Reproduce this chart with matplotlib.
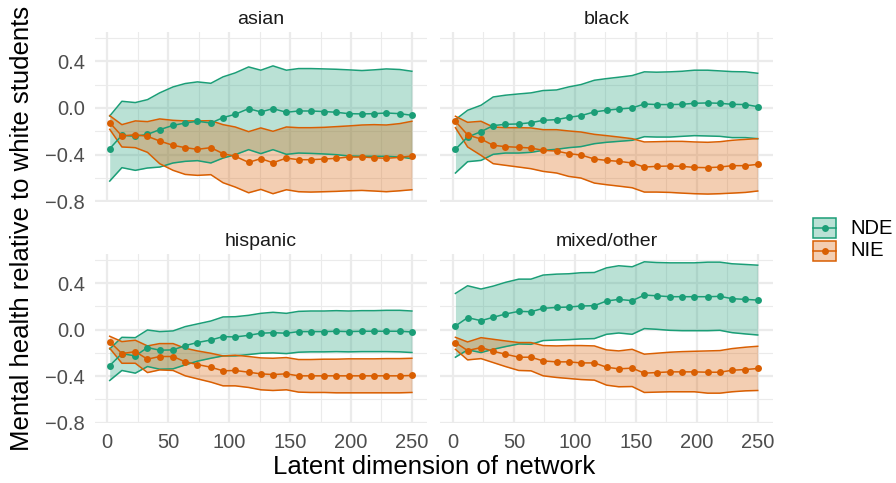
import matplotlib
matplotlib.use("Agg")
import matplotlib.pyplot as plt
from matplotlib.patches import Rectangle
from matplotlib.lines import Line2D

plt.rcParams["font.family"] = ["Liberation Sans", "DejaVu Sans"]

# latent dimensions evaluated
dims = [2, 12, 23, 33, 43, 54, 64, 74, 85, 95, 105, 116, 126, 136, 147,
        157, 167, 178, 188, 198, 209, 219, 229, 240, 250]

groups = ["asian", "black", "hispanic", "mixed/other"]

# natural direct effect (estimate, lower, upper)
nde_est = {
    "asian": [-0.349, -0.234, -0.243, -0.226, -0.186, -0.149, -0.129, -0.114, -0.129, -0.083, -0.054, -0.006, -0.034,
              -0.006, -0.037, -0.026, -0.026, -0.031, -0.037, -0.049, -0.051, -0.049, -0.043, -0.049, -0.063],
    "black": [-0.354, -0.249, -0.203, -0.151, -0.140, -0.137, -0.126, -0.106, -0.100, -0.080, -0.066, -0.034, -0.020,
              -0.009, 0.000, 0.034, 0.029, 0.029, 0.031, 0.040, 0.043, 0.040, 0.031, 0.029, 0.011],
    "hispanic": [-0.309, -0.206, -0.226, -0.154, -0.177, -0.174, -0.137, -0.111, -0.089, -0.060, -0.063, -0.049, -0.031,
                 -0.026, -0.031, -0.017, -0.017, -0.017, -0.014, -0.017, -0.014, -0.014, -0.014, -0.014, -0.020],
    "mixed/other": [0.031, 0.103, 0.077, 0.106, 0.134, 0.157, 0.154, 0.183, 0.191, 0.194, 0.203, 0.206, 0.246,
                    0.260, 0.249, 0.297, 0.291, 0.283, 0.283, 0.283, 0.283, 0.286, 0.266, 0.260, 0.254],
}
nde_lo = {
    "asian": [-0.626, -0.511, -0.534, -0.514, -0.506, -0.471, -0.457, -0.451, -0.471, -0.429, -0.400, -0.357, -0.391,
              -0.357, -0.397, -0.386, -0.389, -0.394, -0.400, -0.411, -0.414, -0.414, -0.414, -0.420, -0.434],
    "black": [-0.557, -0.460, -0.449, -0.397, -0.386, -0.386, -0.380, -0.363, -0.354, -0.340, -0.331, -0.306, -0.294,
              -0.286, -0.277, -0.246, -0.249, -0.249, -0.243, -0.237, -0.240, -0.243, -0.254, -0.254, -0.263],
    "hispanic": [-0.437, -0.351, -0.374, -0.317, -0.340, -0.337, -0.303, -0.271, -0.246, -0.226, -0.226, -0.214, -0.203,
                 -0.200, -0.206, -0.194, -0.191, -0.191, -0.189, -0.191, -0.189, -0.189, -0.189, -0.191, -0.197],
    "mixed/other": [-0.237, -0.174, -0.197, -0.169, -0.146, -0.123, -0.126, -0.094, -0.089, -0.086, -0.080, -0.077, -0.040,
                    -0.029, -0.040, 0.009, 0.003, -0.006, -0.009, -0.009, -0.009, -0.006, -0.026, -0.037, -0.046],
}
nde_hi = {
    "asian": [-0.069, 0.057, 0.046, 0.071, 0.129, 0.180, 0.209, 0.223, 0.211, 0.266, 0.300, 0.351, 0.323,
              0.360, 0.323, 0.337, 0.337, 0.334, 0.331, 0.326, 0.320, 0.326, 0.334, 0.329, 0.314],
    "black": [-0.100, -0.020, 0.023, 0.094, 0.109, 0.120, 0.129, 0.149, 0.154, 0.180, 0.200, 0.237, 0.251,
              0.263, 0.277, 0.309, 0.306, 0.309, 0.314, 0.323, 0.323, 0.317, 0.311, 0.309, 0.297],
    "hispanic": [-0.166, -0.066, -0.069, -0.003, -0.017, -0.011, 0.026, 0.049, 0.074, 0.109, 0.111, 0.123, 0.140,
                 0.149, 0.140, 0.157, 0.160, 0.160, 0.163, 0.160, 0.163, 0.163, 0.166, 0.166, 0.160],
    "mixed/other": [0.311, 0.377, 0.349, 0.374, 0.406, 0.434, 0.434, 0.469, 0.477, 0.480, 0.489, 0.491, 0.531,
                    0.549, 0.540, 0.583, 0.577, 0.574, 0.574, 0.574, 0.580, 0.580, 0.566, 0.560, 0.554],
}

# natural indirect effect (estimate, lower, upper)
nie_est = {
    "asian": [-0.126, -0.240, -0.229, -0.243, -0.283, -0.320, -0.340, -0.354, -0.340, -0.391, -0.414, -0.466, -0.434,
              -0.469, -0.429, -0.443, -0.443, -0.437, -0.431, -0.420, -0.420, -0.426, -0.431, -0.423, -0.411],
    "black": [-0.114, -0.231, -0.266, -0.320, -0.331, -0.337, -0.343, -0.363, -0.369, -0.391, -0.403, -0.437, -0.449,
              -0.457, -0.471, -0.506, -0.500, -0.497, -0.500, -0.509, -0.511, -0.506, -0.494, -0.494, -0.483],
    "hispanic": [-0.103, -0.206, -0.189, -0.254, -0.231, -0.231, -0.277, -0.300, -0.323, -0.354, -0.351, -0.366, -0.380,
                 -0.386, -0.380, -0.397, -0.397, -0.397, -0.397, -0.397, -0.397, -0.397, -0.397, -0.397, -0.394],
    "mixed/other": [-0.111, -0.180, -0.154, -0.186, -0.211, -0.237, -0.237, -0.269, -0.277, -0.277, -0.286, -0.286, -0.323,
                    -0.337, -0.331, -0.374, -0.369, -0.363, -0.363, -0.363, -0.366, -0.366, -0.349, -0.343, -0.334],
}
nie_lo = {
    "asian": [-0.183, -0.334, -0.340, -0.380, -0.477, -0.534, -0.569, -0.577, -0.571, -0.640, -0.677, -0.726, -0.697,
              -0.734, -0.700, -0.717, -0.720, -0.717, -0.714, -0.709, -0.706, -0.711, -0.717, -0.709, -0.700],
    "black": [-0.169, -0.334, -0.406, -0.477, -0.491, -0.506, -0.520, -0.543, -0.557, -0.586, -0.600, -0.643, -0.657,
              -0.669, -0.683, -0.720, -0.720, -0.723, -0.729, -0.734, -0.737, -0.734, -0.729, -0.723, -0.711],
    "hispanic": [-0.160, -0.289, -0.289, -0.369, -0.346, -0.351, -0.397, -0.423, -0.451, -0.483, -0.483, -0.497, -0.517,
                 -0.523, -0.517, -0.537, -0.540, -0.540, -0.543, -0.543, -0.543, -0.543, -0.543, -0.543, -0.540],
    "mixed/other": [-0.169, -0.260, -0.249, -0.283, -0.317, -0.351, -0.354, -0.397, -0.411, -0.420, -0.429, -0.434, -0.477,
                    -0.491, -0.489, -0.540, -0.537, -0.534, -0.534, -0.534, -0.546, -0.546, -0.534, -0.526, -0.523],
}
nie_hi = {
    "asian": [-0.066, -0.143, -0.111, -0.117, -0.094, -0.106, -0.111, -0.111, -0.109, -0.143, -0.163, -0.203, -0.171,
              -0.200, -0.163, -0.169, -0.169, -0.166, -0.160, -0.154, -0.146, -0.143, -0.146, -0.134, -0.114],
    "black": [-0.071, -0.123, -0.114, -0.163, -0.169, -0.169, -0.171, -0.186, -0.186, -0.197, -0.206, -0.226, -0.237,
              -0.249, -0.263, -0.291, -0.289, -0.286, -0.286, -0.291, -0.294, -0.289, -0.277, -0.269, -0.263],
    "hispanic": [-0.057, -0.103, -0.091, -0.140, -0.120, -0.120, -0.160, -0.183, -0.203, -0.226, -0.220, -0.231, -0.243,
                 -0.246, -0.240, -0.257, -0.257, -0.254, -0.254, -0.251, -0.251, -0.251, -0.249, -0.249, -0.246],
    "mixed/other": [-0.066, -0.106, -0.069, -0.083, -0.097, -0.111, -0.111, -0.137, -0.140, -0.137, -0.137, -0.140, -0.174,
                    -0.183, -0.169, -0.211, -0.203, -0.194, -0.189, -0.186, -0.183, -0.180, -0.163, -0.151, -0.143],
}

effects = ["NDE", "NIE"]
colors = {"NDE": "#1B9E77", "NIE": "#D95F02"}
series = {
    "NDE": (nde_est, nde_lo, nde_hi),
    "NIE": (nie_est, nie_lo, nie_hi),
}

y_ticks = [0.4, 0.0, -0.4, -0.8]
y_minor = [0.6, 0.2, -0.2, -0.6]
x_ticks = [0, 50, 100, 150, 200, 250]
x_minor = [25, 75, 125, 175, 225]

W, H = 896, 483
fig = plt.figure(figsize=(W / 100, H / 100), dpi=100)

# panel boxes in pixels: (left, right) per column, (top, bottom) per row
col_x = [(94.6, 427.0), (440.3, 772.8)]
row_y = [(32.0, 202.0), (254.0, 423.3)]

grey_major = "#EBEBEB"
tick_col = "#4D4D4D"
fs_tick = 14.5
fs_strip = 14
fs_title = 18.5

for k, g in enumerate(groups):
    r, c = divmod(k, 2)
    x0, x1 = col_x[c]
    y0, y1 = row_y[r]
    ax = fig.add_axes([x0 / W, 1 - y1 / H, (x1 - x0) / W, (y1 - y0) / H])
    ax.set_xlim(-10.4, 262.4)
    ax.set_ylim(-0.805, 0.65)
    for s in ax.spines.values():
        s.set_visible(False)
    for v in y_ticks:
        ax.axhline(v, color=grey_major, lw=1.6, zorder=0)
    for v in y_minor:
        ax.axhline(v, color=grey_major, lw=0.8, zorder=0)
    for v in x_ticks:
        ax.axvline(v, color=grey_major, lw=1.6, zorder=0)
    for v in x_minor:
        ax.axvline(v, color=grey_major, lw=0.8, zorder=0)

    for e in effects:
        est, lo, hi = series[e]
        ax.fill_between(dims, lo[g], hi[g], color=colors[e], alpha=0.3, lw=0, zorder=1)
        ax.plot(dims, lo[g], color=colors[e], lw=1.1, zorder=1.5)
        ax.plot(dims, hi[g], color=colors[e], lw=1.1, zorder=1.5)
    for e in effects:
        est = series[e][0]
        ax.plot(dims, est[g], color=colors[e], lw=1.1, marker="o", ms=5,
                markeredgewidth=0, zorder=3)

    ax.set_yticks(y_ticks)
    ax.set_xticks(x_ticks)
    ax.tick_params(length=0, pad=7, labelsize=fs_tick, labelcolor=tick_col)
    if c == 0:
        ax.set_yticklabels(["0.4", "0.0", "\u22120.4", "\u22120.8"])
    else:
        ax.set_yticklabels([])
    if r == 1:
        ax.set_xticklabels([str(v) for v in x_ticks])
    else:
        ax.set_xticklabels([])
    ax.set_title(g, fontsize=fs_strip, color="#1A1A1A", pad=6)

fig.text((94.6 + 772.8) / 2 / W, 1 - 467 / H, "Latent dimension of network",
         ha="center", va="center", fontsize=fs_title)
fig.text(22 / W, 1 - 228 / H, "Mental health relative to white students",
         ha="center", va="center", rotation=90, fontsize=fs_title)

# legend keys
for i, e in enumerate(effects):
    cy = 228 + i * 23
    kx0, kx1 = 812, 837
    kax = fig.add_axes([kx0 / W, 1 - (cy + 11) / H, (kx1 - kx0) / W, 22 / H])
    kax.set_xlim(0, 1)
    kax.set_ylim(0, 1)
    kax.axis("off")
    kax.add_patch(Rectangle((0.03, 0.03), 0.94, 0.94, facecolor=colors[e], alpha=0.3,
                            edgecolor="none"))
    kax.add_patch(Rectangle((0.03, 0.03), 0.94, 0.94, facecolor="none",
                            edgecolor=colors[e], lw=1.1))
    kax.add_line(Line2D([0.03, 0.97], [0.5, 0.5], color=colors[e], lw=1.1))
    kax.add_line(Line2D([0.5], [0.5], color=colors[e], marker="o", ms=5,
                        markeredgewidth=0))
    fig.text(850 / W, 1 - cy / H, e, ha="left", va="center", fontsize=fs_tick)

fig.savefig("out.png", dpi=100)
